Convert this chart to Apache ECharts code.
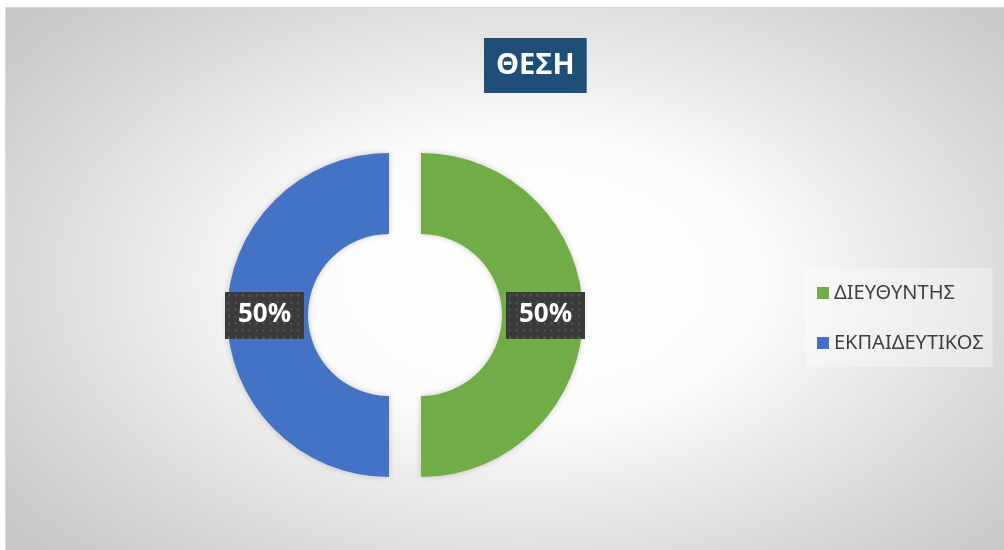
<!DOCTYPE html>
<html>
<head>
<meta charset="utf-8">
<script src="https://cdn.jsdelivr.net/npm/echarts@6/dist/echarts.min.js"></script>
<style>
  html, body { margin: 0; padding: 0; background: #fff; }
  #thesi {
    position: absolute; left: 5px; top: 7px; width: 999px; height: 543px;
    border-top: 1px solid #d9d9d9; border-left: 1px solid #d9d9d9;
    box-sizing: border-box;
    background: radial-gradient(ellipse 72% 80% at 52% 50%, #ffffff 0%, #fcfcfc 32%, #e0e0e0 62%, #cccccc 85%, #c4c4c4 100%);
  }
</style>
</head>
<body>
<div id="thesi"></div>
<script>
var categories = ['ΔΙΕΥΘΥΝΤΗΣ', 'ΕΚΠΑΙΔΕΥΤΙΚΟΣ']
var values = [50, 50]
var colors = ['#70AD47', '#4472C4']

// dotted dark box behind the percentages
function dotPattern() {
    var c = document.createElement('canvas')
    c.width = 80
    c.height = 47
    var ctx = c.getContext('2d')
    ctx.fillStyle = '#3b3b3b'
    ctx.fillRect(0, 0, 80, 47)
    ctx.fillStyle = '#575757'
    for (var y = 3; y < 47; y += 7) {
        for (var x = 3; x < 80; x += 7) {
            ctx.fillRect(x, y, 2, 2)
        }
    }
    return c
}

var myChart = echarts.init(document.getElementById('thesi'))
var pieData = categories.map(function (name, i) {
    return { name: name, value: values[i], selected: true, itemStyle: { color: colors[i] } }
})

var option = {
    animation: false,
    backgroundColor: 'transparent',
    title: {
        text: 'ΘΕΣΗ',
        left: 478,
        top: 30,
        backgroundColor: '#1F4E79',
        padding: [12, 12],
        textStyle: {
            color: '#fff',
            fontSize: 29,
            fontWeight: 'bold',
            lineHeight: 31,
            fontFamily: 'Open Sans'
        }
    },
    legend: {
        orient: 'vertical',
        left: 799,
        top: 260,
        padding: [13, 9, 12, 12],
        backgroundColor: 'rgba(255,255,255,0.35)',
        itemWidth: 12,
        itemHeight: 12,
        itemGap: 26,
        icon: 'rect',
        data: categories,
        selectedMode: false,
        textStyle: {
            color: '#404040',
            fontSize: 20,
            lineHeight: 24,
            fontFamily: 'Noto Sans'
        }
    },
    series: [
        {
            type: 'pie',
            center: [399, 307],
            radius: [81, 162],
            startAngle: 90,
            selectedMode: 'multiple',
            selectedOffset: 16,
            data: pieData,
            itemStyle: {
                shadowBlur: 6,
                shadowColor: 'rgba(0,0,0,0.2)'
            },
            label: {
                position: 'inside',
                formatter: '{d}%',
                color: '#fff',
                fontSize: 26,
                fontWeight: 'bold',
                fontFamily: 'Open Sans',
                lineHeight: 29,
                padding: [9, 13],
                backgroundColor: { image: dotPattern() },
                shadowColor: 'rgba(0,0,0,0.45)',
                shadowBlur: 4,
                shadowOffsetX: 3,
                shadowOffsetY: 3
            },
            labelLine: { show: false },
            emphasis: { disabled: true },
            select: {
                itemStyle: { borderWidth: 0 }
            }
        }
    ]
}

myChart.setOption(option)
</script>
</body>
</html>
